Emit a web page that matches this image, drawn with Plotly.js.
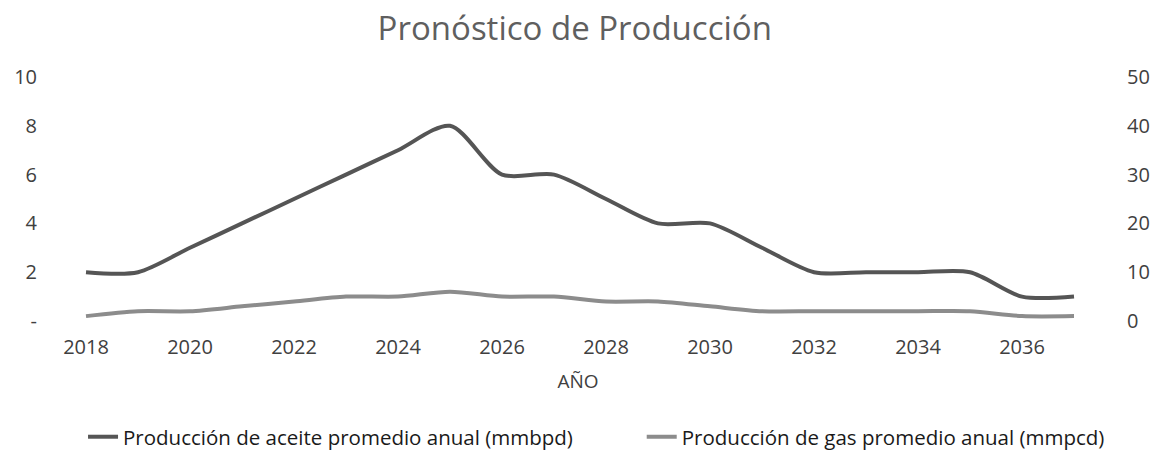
<!DOCTYPE html>
<html>
<head>
<meta charset="utf-8">
<script src="https://cdn.plot.ly/plotly-3.0.1.min.js"></script>
<style>html,body{margin:0;padding:0;background:#fff;}#chart{width:1152px;height:473px;}</style>
</head>
<body>
<div id="chart"></div>
<script>
const years = [2018,2019,2020,2021,2022,2023,2024,2025,2026,2027,2028,2029,2030,2031,2032,2033,2034,2035,2036,2037];
const oilValues = [2,2,3,4,5,6,7,8,6,6,5,4,4,3,2,2,2,2,1,1];
const gasValues = [1,2,2,3,4,5,5,6,5,5,4,4,3,2,2,2,2,2,1,1];
const xTicks = [2018,2020,2022,2024,2026,2028,2030,2032,2034,2036];
const leftTickVals = [0,2,4,6,8,10];
const leftTickText = ['-','2','4','6','8','10'];
const rightTickVals = [0,10,20,30,40,50];
const oilName = 'Producción de aceite promedio anual (mmbpd)';
const gasName = 'Producción de gas promedio anual (mmpcd)';

const FONT = 'Open Sans, sans-serif';
const traces = [
  {x: years, y: oilValues, name: oilName, type: 'scatter', mode: 'lines', legend: 'legend',
   line: {color: '#555555', width: 4, shape: 'spline', smoothing: 0.8}, yaxis: 'y'},
  {x: years, y: gasValues, name: gasName, type: 'scatter', mode: 'lines', legend: 'legend2',
   line: {color: '#8c8c8c', width: 4, shape: 'spline', smoothing: 0.8}, yaxis: 'y2'}
];
const legendStyle = {orientation: 'h', xanchor: 'left', y: -0.475, yanchor: 'middle',
                     font: {size: 20.5, color: '#1a1a1a'}, bgcolor: 'rgba(0,0,0,0)'};
const layout = {
  width: 1152, height: 473,
  margin: {l: 38, r: 34, t: 77, b: 152},
  paper_bgcolor: '#ffffff', plot_bgcolor: '#ffffff',
  font: {family: FONT, color: '#404040', size: 20},
  title: {text: 'Pronóstico de Producción', x: 0.497, xref: 'paper', xanchor: 'center',
          y: 0.94, yanchor: 'middle', font: {family: FONT, size: 33, color: '#5f5f5f'}},
  xaxis: {range: [2017.077, 2037.846], tickvals: xTicks, showgrid: false, zeroline: false,
          showline: false, ticks: '', ticklabelstandoff: 12, tickfont: {size: 20, color: '#404040'},
          title: {text: 'AÑO', standoff: 15, font: {size: 19, color: '#404040'}}},
  yaxis: {range: [0, 10], tickvals: leftTickVals, ticktext: leftTickText, showgrid: false,
          zeroline: false, showline: false, ticks: '', tickfont: {size: 20, color: '#404040'}},
  yaxis2: {range: [0, 50], tickvals: rightTickVals, overlaying: 'y', side: 'right', showgrid: false,
           zeroline: false, showline: false, ticks: '', ticklabelstandoff: 8,
           tickfont: {size: 20, color: '#404040'}},
  showlegend: true,
  legend: Object.assign({x: 0.0417}, legendStyle),
  legend2: Object.assign({x: 0.559}, legendStyle)
};
Plotly.newPlot('chart', traces, layout, {displayModeBar: false, staticPlot: true});
</script>
</body>
</html>
